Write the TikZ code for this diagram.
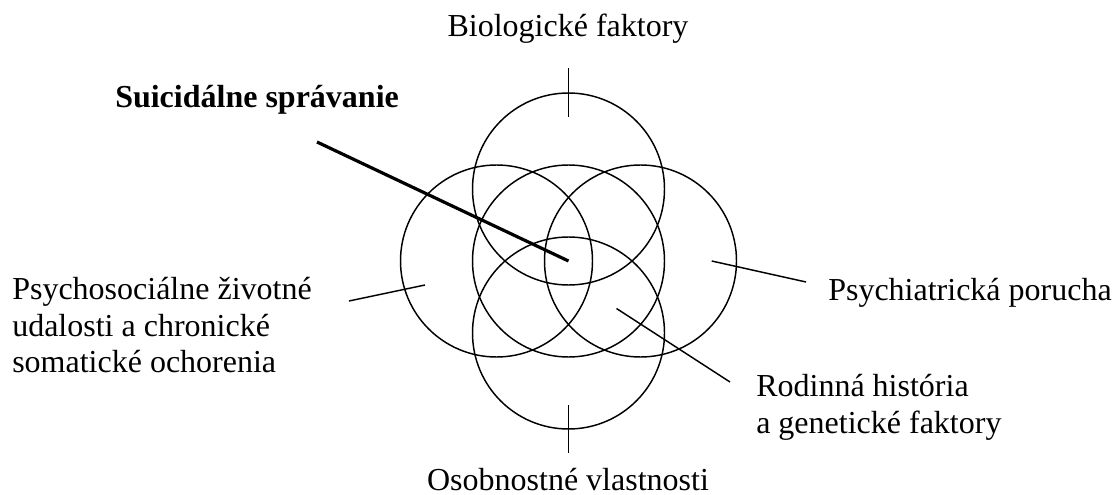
\documentclass[tikz,border=0pt]{standalone}
\usepackage{fontspec}
\setmainfont{Liberation Serif}
\usetikzlibrary{positioning,calc}
\definecolor{ink}{HTML}{000000}
\tikzset{
  factorcircle/.style={draw=ink, line width=1.1pt},
  labeltext/.style   ={font=\fontsize{24}{27.5}\selectfont, inner sep=0pt,
                       align=left, text=ink},
  boldtext/.style    ={font=\fontsize{24}{27.5}\selectfont\bfseries, inner sep=0pt,
                       text=ink},
  leadline/.style    ={draw=ink, line width=1.1pt},
  tickline/.style    ={draw=ink, line width=1.1pt},
  mainline/.style    ={draw=ink, line width=2.4pt},
}

\begin{document}
\begin{tikzpicture}[x=0.75pt,y=-0.75pt]
    \useasboundingbox (0,0) rectangle (1114,495);

    % ----- five overlapping circles -----
    \coordinate (core) at (568.5,261);
    \foreach \name/\dx/\dy in {bio/0/-72, psy/-72/0, mid/0/0, psych/72/0, pers/0/72} {
      \coordinate (c-\name) at ($(core)+(\dx,\dy)$);
      \draw[factorcircle] (c-\name) circle[radius=96];
    }

    % ----- ticks on top and bottom circles -----
    \coordinate (tick-top-a) at (568.5,68);
    \coordinate (tick-top-b) at (568.5,117);
    \coordinate (tick-bot-a) at (568.5,405);
    \coordinate (tick-bot-b) at (568.5,453);
    \draw[tickline] (tick-top-a) -- (tick-top-b);
    \draw[tickline] (tick-bot-a) -- (tick-bot-b);

    % ----- labels (base = last line for multi-line ones) -----
    \node[labeltext,anchor=base] (biolbl) at (568,36.7) {Biologické faktory};
    \node[labeltext,anchor=base] (perslbl) at (568,490) {Osobnostné vlastnosti};
    \node[boldtext,anchor=base west] (suilbl) at (115,108) {Suicidálne správanie};
    \node[labeltext,anchor=base west] (psylbl) at (12,373)
      {Psychosociálne životné\\udalosti a chronické\\somatické ochorenia};
    \node[labeltext,anchor=base west] (psychlbl) at (828,300.7) {Psychiatrická porucha};
    \node[labeltext,anchor=base west] (famlbl) at (756,433.3)
      {Rodinná história\\a genetické faktory};

    % ----- leader lines -----
    \coordinate (sui-end) at (317,142);
    \coordinate (psy-a) at (349,301);
    \coordinate (psy-b) at (425,285);
    \coordinate (psych-a) at (711.7,261);
    \coordinate (psych-b) at (806,282);
    \coordinate (fam-a) at (616.5,308.5);
    \coordinate (fam-b) at (730,382);

    \draw[mainline] (sui-end) -- (core);
    \draw[leadline] (psy-a) -- (psy-b);
    \draw[leadline] (psych-a) -- (psych-b);
    \draw[leadline] (fam-a) -- (fam-b);
  \end{tikzpicture}
\end{document}
